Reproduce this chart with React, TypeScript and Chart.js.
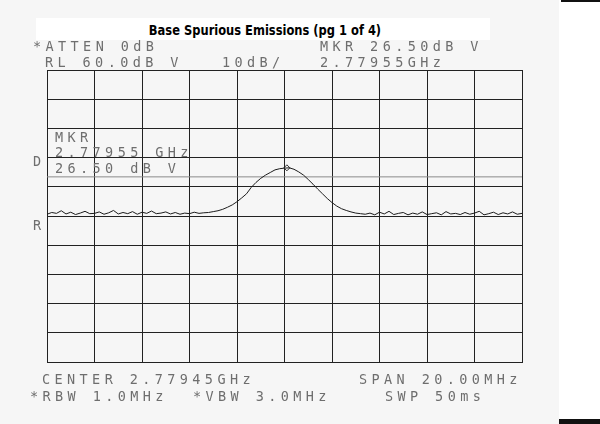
import { useEffect, useRef } from "react";
import { Chart, registerables } from "chart.js";

Chart.register(...registerables);

// frequency offset from centre (MHz), 2.77945 GHz centre, 20 MHz span
const freqOffsets = [
  -10, -9.8, -9.6, -9.4, -9.2, -9, -8.8, -8.6, -8.4, -8.2,
  -8, -7.8, -7.6, -7.4, -7.2, -7, -6.8, -6.6, -6.4, -6.2,
  -6, -5.8, -5.6, -5.4, -5.2, -5, -4.8, -4.6, -4.4, -4.2,
  -4, -3.8, -3.6, -3.4, -3.2, -3, -2.8, -2.6, -2.4, -2.2,
  -2, -1.8, -1.6, -1.4, -1.2, -1, -0.8, -0.6, -0.4, -0.2,
  0, 0.2, 0.4, 0.6, 0.8, 1, 1.2, 1.4, 1.6, 1.8,
  2, 2.2, 2.4, 2.6, 2.8, 3, 3.2, 3.4, 3.6, 3.8,
  4, 4.2, 4.4, 4.6, 4.8, 5, 5.2, 5.4, 5.6, 5.8,
  6, 6.2, 6.4, 6.6, 6.8, 7, 7.2, 7.4, 7.6, 7.8,
  8, 8.2, 8.4, 8.6, 8.8, 9, 9.2, 9.4, 9.6, 9.8, 10,
];

// trace level (dBuV)
const traceLevels = [
  10.6, 11.2, 10.9, 11.8, 10.7, 11.3, 10.5, 11.0, 11.6, 10.8,
  10.9, 11.4, 10.6, 11.1, 11.9, 10.7, 11.2, 10.8, 11.5, 10.6,
  11.3, 10.9, 11.7, 10.8, 11.0, 11.4, 10.7, 11.2, 10.6, 11.0,
  10.8, 11.3, 10.9, 11.1, 11.2, 11.5, 11.8, 12.3, 13.0, 13.8,
  14.9, 16.2, 17.6, 19.8, 21.5, 22.9, 24.0, 24.9, 25.8, 26.2,
  26.4, 26.5, 26.0, 25.1, 24.0, 22.5, 20.9, 19.2, 17.6, 16.0,
  14.6, 13.4, 12.5, 11.9, 11.4, 11.0, 10.8, 10.6, 11.0, 10.4,
  11.3, 10.7, 11.6, 10.5, 10.9, 11.2, 10.4, 11.0, 10.6, 11.4,
  10.5, 10.8, 11.1, 10.4, 11.5, 10.7, 10.9, 10.5, 11.2, 10.6,
  11.0, 11.6, 10.4, 10.8, 11.3, 10.5, 11.1, 10.7, 11.4, 10.6, 10.9,
];

const markerOffset = 0.1;
const markerLevel = 26.5;
const displayLineLevel = 23.4;
const refLevel = 60;
const bottomLevel = -40;

const topLabels = [
  { text: "*ATTEN 0dB", x: 33, y: 46 },
  { text: "MKR 26.50dB V", x: 320, y: 46 },
  { text: "RL 60.0dB V", x: 45, y: 62 },
  { text: "10dB/", x: 222, y: 62 },
  { text: "2.77955GHz", x: 320, y: 62 },
  { text: "MKR", x: 55, y: 137 },
  { text: "2.77955 GHz", x: 55, y: 152 },
  { text: "26.50 dB V", x: 55, y: 168 },
  { text: "D", x: 33, y: 161 },
  { text: "R", x: 33, y: 225 },
  { text: "CENTER 2.77945GHz", x: 42, y: 379 },
  { text: "SPAN 20.00MHz", x: 359, y: 379 },
  { text: "*RBW 1.0MHz", x: 30, y: 396 },
  { text: "*VBW 3.0MHz", x: 193, y: 396 },
  { text: "SWP 50ms", x: 385, y: 396 },
];

export default function App() {
  const canvasRef = useRef<HTMLCanvasElement>(null);

  useEffect(() => {
    if (!canvasRef.current) return;
    const ctx = canvasRef.current.getContext("2d");
    if (!ctx) return;

    const chart = new Chart(ctx, {
      type: "line",
      data: {
        datasets: [
          {
            data: freqOffsets.map((f, i) => ({ x: f, y: traceLevels[i] })),
            borderColor: "#1c1c1c",
            borderWidth: 1,
            pointRadius: 0,
            tension: 0,
          },
          {
            data: [
              { x: -10, y: displayLineLevel },
              { x: 10, y: displayLineLevel },
            ],
            borderColor: "#8a8a8a",
            borderWidth: 1,
            pointRadius: 0,
          },
          {
            data: [{ x: markerOffset, y: markerLevel }],
            showLine: false,
            pointStyle: "rectRot",
            pointRadius: 3,
            borderColor: "#333",
            borderWidth: 1,
            backgroundColor: "rgba(0,0,0,0)",
          },
        ],
      },
      options: {
        responsive: false,
        animation: false,
        layout: { padding: { left: 47, top: 70, right: 78, bottom: 62 } },
        scales: {
          x: {
            type: "linear",
            min: -10,
            max: 10,
            ticks: { display: false, stepSize: 2 },
            grid: { color: "#222", lineWidth: 1, drawTicks: false },
            border: { color: "#222" },
          },
          y: {
            min: bottomLevel,
            max: refLevel,
            ticks: { display: false, stepSize: 10 },
            grid: { color: "#222", lineWidth: 1, drawTicks: false },
            border: { color: "#222" },
          },
        },
        plugins: {
          legend: { display: false },
          tooltip: { enabled: false },
        },
      },
    });

    return () => {
      chart.destroy();
    };
  }, []);

  return (
    <div
      style={{
        position: "fixed",
        left: 0,
        top: 0,
        width: 600,
        height: 424,
        background: "#ffffff",
        overflow: "hidden",
      }}
    >
      <div style={{ position: "absolute", left: 0, top: 0, width: 559, height: 424, background: "#f6f6f6" }} />
      <div style={{ position: "absolute", left: 561, top: 0, width: 39, height: 2, background: "#111" }} />
      <div style={{ position: "absolute", left: 559, top: 419, width: 41, height: 5, background: "#111" }} />
      <div style={{ position: "absolute", left: 36, top: 18, width: 454, height: 22, background: "#ffffff" }} />
      <div
        style={{
          position: "absolute",
          left: 36,
          top: 19,
          width: 458,
          height: 22,
          lineHeight: "22px",
          textAlign: "center",
          fontFamily: '"Liberation Sans Narrow", "DejaVu Sans Condensed", Arial, sans-serif',
          fontWeight: "bold",
          fontSize: 14.5,
          transform: "scaleX(0.88)",
          color: "#000",
        }}
      >
        Base Spurious Emissions (pg 1 of 4)
      </div>
      <canvas ref={canvasRef} width={600} height={424} style={{ position: "absolute", left: 0, top: 0 }} />
      {topLabels.map((l) => (
        <div
          key={l.text + l.x}
          style={{
            position: "absolute",
            left: l.x,
            top: l.y - 8,
            height: 16,
            lineHeight: "16px",
            whiteSpace: "pre",
            fontFamily: '"DejaVu Sans Mono", monospace',
            fontSize: 13.5,
            letterSpacing: "4.4px",
            color: "#6e6e6e",
          }}
        >
          {l.text}
        </div>
      ))}
    </div>
  );
}
